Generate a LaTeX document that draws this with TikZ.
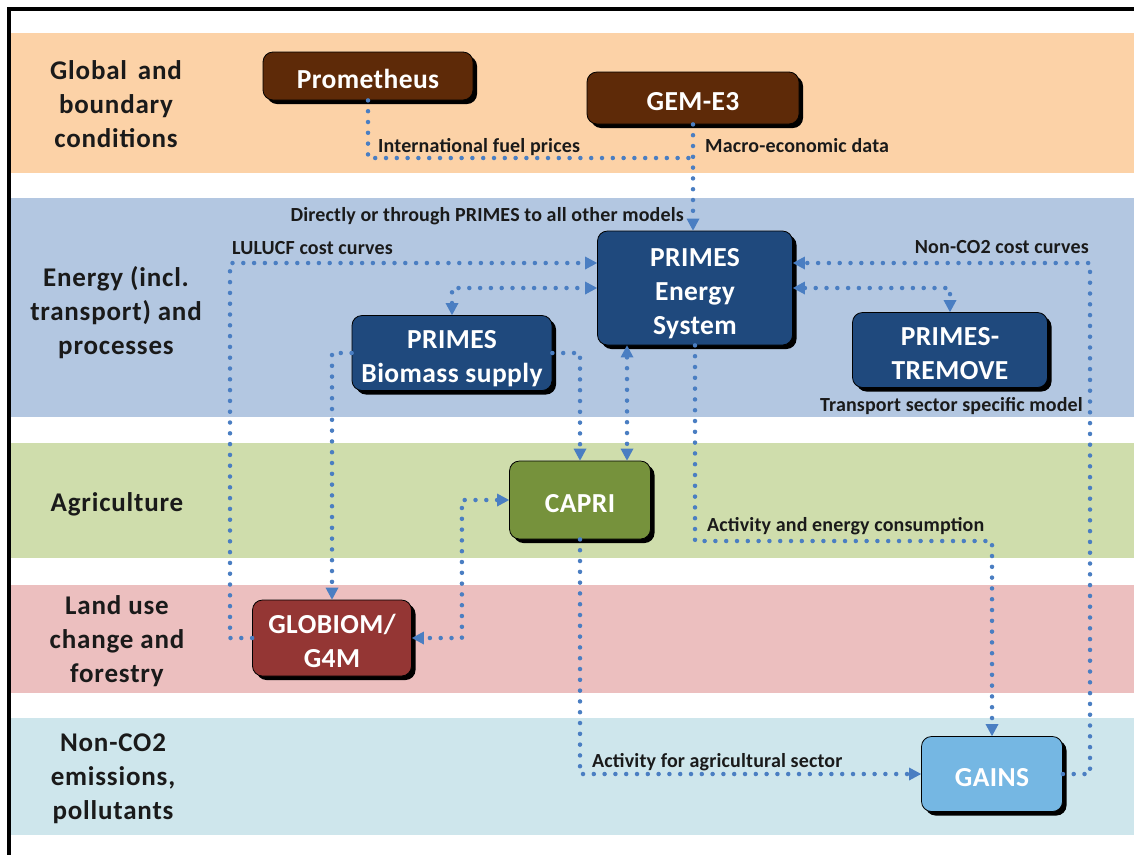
\documentclass[tikz,border=0pt]{standalone}
\usepackage{fontspec}
\setmainfont{Carlito}
\usetikzlibrary{arrows.meta,shadows,calc}
\definecolor{bandO}{HTML}{FCD2A7}
\definecolor{bandB}{HTML}{B3C7E1}
\definecolor{bandG}{HTML}{CFDDAC}
\definecolor{bandR}{HTML}{ECBFBF}
\definecolor{bandC}{HTML}{CEE6EC}
\definecolor{brownN}{HTML}{5E2A08}
\definecolor{navyN}{HTML}{1F497D}
\definecolor{oliveN}{HTML}{76923C}
\definecolor{redN}{HTML}{943634}
\definecolor{skyN}{HTML}{75B7E3}
\definecolor{dotc}{HTML}{4A7EC2}
\definecolor{labc}{HTML}{1A1A1A}
\newcommand\mytopstrut{\rule{0pt}{33pt}}
\newcommand\mybotstrut{\rule[-8pt]{0pt}{8pt}}
\tikzset{
  model/.style={draw=black, line width=0.8pt, rounded corners=10pt, text=white,
    font=\bfseries\fontsize{27.5}{34}\selectfont\addfontfeatures{LetterSpace=1.5}, align=center, inner sep=0pt,
    drop shadow={shadow xshift=4pt, shadow yshift=-4pt, opacity=1, fill=black}},
  sector/.style={font=\bfseries\fontsize{27}{34}\selectfont\addfontfeatures{LetterSpace=3}, text=labc, align=center, inner sep=0pt},
  elabel/.style={font=\bfseries\fontsize{20}{22}\selectfont\addfontfeatures{LetterSpace=0.8}, text=labc, inner sep=0pt},
  conn/.style={draw=dotc, line width=4.5pt, line cap=round, dash pattern=on 0pt off 10.8pt},
  tip/.tip={Triangle[length=12pt,width=13pt,line width=0pt,fill=dotc,color=dotc]}
}
\begin{document}
\begin{tikzpicture}[x=1pt,y=-1pt]
\useasboundingbox (0,0) rectangle (1134,855);
\fill[white] (0,0) rectangle (1134,855);
% bands
\fill[bandO] (11,33) rectangle (1134,173);
\fill[bandB] (11,198) rectangle (1134,417);
\fill[bandG] (11,443) rectangle (1134,558);
\fill[bandR] (11,585) rectangle (1134,693);
\fill[bandC] (11,718) rectangle (1134,835);
% frame
\draw[line width=4pt] (1134,9) -- (9,9) -- (9,855);
% sector labels
\node[sector] (s1) at (116,104) {Global\hspace{0.4em}and\\boundary\\conditions};
\node[sector] (s2) at (116,313) {Energy (incl.\\transport) and\\processes};
\node[sector] (s3) at (117,504) {Agriculture};
\node[sector] (s4) at (117,641) {Land use\\change and\\forestry};
\node[sector] (s5) at (113,779) {Non-CO2\\emissions,\\pollutants};
% models
\node[model, fill=brownN, minimum width=210pt, minimum height=48pt] (prom) at (368,76) {\mytopstrut Prometheus\mybotstrut};
\node[model, fill=brownN, minimum width=212pt, minimum height=52pt] (gem) at (693,98) {\mytopstrut GEM-E3\mybotstrut};
\node[model, fill=navyN, minimum width=195pt, minimum height=114pt] (primes) at (695,288) {\mytopstrut PRIMES\\Energy\\System\mybotstrut};
\node[model, fill=navyN, minimum width=200pt, minimum height=68pt] (bio) at (452,353) {\mytopstrut PRIMES\\Biomass supply\mybotstrut};
\node[model, fill=navyN, minimum width=195pt, minimum height=68pt] (trem) at (950,350) {\mytopstrut PRIMES-\\TREMOVE\mybotstrut};
\node[model, fill=oliveN, minimum width=141pt, minimum height=78pt] (capri) at (580,500) {\mytopstrut CAPRI\mybotstrut};
\node[model, fill=redN, minimum width=159pt, minimum height=76pt] (glob) at (332,638) {\mytopstrut GLOBIOM/\\G4M\mybotstrut};
\node[model, fill=skyN, minimum width=141pt, minimum height=75pt] (gains) at (992,774) {\mytopstrut GAINS\mybotstrut};
% junction
\coordinate (j1) at (gem.south |- 0,158);
% connectors
\draw[conn] (prom.south) |- (j1);
\draw[conn,-tip] (gem.south) -- (gem.south |- primes.north);
\draw[conn,-tip] (glob.west) -| (230,263) -- (primes.west |- 0,263);
\draw[conn,tip-tip] (bio.north) |- (primes.west);
\draw[conn,-tip] (gains.east) -| (1090,263) -- (primes.east |- 0,263);
\draw[conn,tip-tip] (primes.east) -| (trem.north);
\draw[conn,-tip] (bio.west) -| (glob.north);
\draw[conn,-tip] (bio.east) -| (capri.north);
\draw[conn,tip-tip] (primes.south -| 627,0) -- (capri.north -| 627,0);
\draw[conn,tip-tip] (capri.west) -| ($(glob.east)+(50,0)$) -- (glob.east);
\draw[conn,-tip] (primes.south) -- (695,541) -| (gains.north);
\draw[conn,-tip] (capri.south) |- (gains.west);
% edge labels
\node[elabel, anchor=base west] (l1) at (378,152) {International fuel prices};
\node[elabel, anchor=base west] (l2) at (705,152) {Macro-economic data};
\node[elabel, anchor=base east] (l3) at (684,221) {Directly or through PRIMES to all other models};
\node[elabel, anchor=base west] (l4) at (232,254) {LULUCF cost curves};
\node[elabel, anchor=base east] (l5) at (1089,253) {Non-CO2 cost curves};
\node[elabel, anchor=base east] (l6) at (1083,411) {Transport sector specific model};
\node[elabel, anchor=base west] (l7) at (707,531) {Activity and energy consumption};
\node[elabel, anchor=base west] (l8) at (592,767) {Activity for agricultural sector};
\end{tikzpicture}
\end{document}
